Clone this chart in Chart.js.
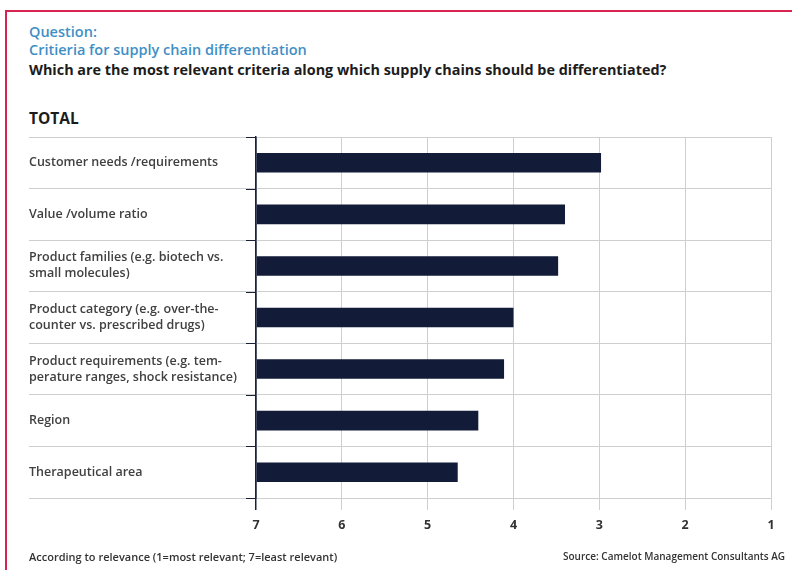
<!DOCTYPE html>
<html>
<head>
<meta charset="utf-8">
<script src="https://cdn.jsdelivr.net/npm/chart.js@4/dist/chart.umd.min.js"></script>
<style>
  body { margin: 0; background: #fff; }
  #wrap { position: relative; width: 792px; height: 570px; overflow: hidden; font-family: "Open Sans", sans-serif; }
  #frame { position: absolute; left: 5px; top: 10px; width: 820px; height: 620px;
           border-left: 2px solid #d8224f; border-top: 2px solid #d8224f; }
  .t { position: absolute; left: 29px; white-space: nowrap; line-height: 16px; }
  .blue { color: #3f8fc6; font-size: 14.5px; font-weight: 600; }
  .bold { color: #1c1c1c; font-size: 14.4px; font-weight: 700; }
  .foot { color: #333; font-weight: 600; }
  canvas { position: absolute; left: 0; top: 0; }
</style>
</head>
<body>
<div id="wrap">
  <div id="frame"></div>
  <div class="t blue" style="top:24px">Question:</div>
  <div class="t blue" style="top:42px">Critieria for supply chain differentiation</div>
  <div class="t bold" style="top:62px">Which are the most relevant criteria along which supply chains should be differentiated?</div>
  <div class="t bold" style="top:110px;font-size:15.5px">TOTAL</div>
  <canvas id="chart" width="792" height="570"></canvas>
  <div class="t foot" style="top:549px;font-size:11px">According to relevance (1=most relevant; 7=least relevant)</div>
  <div class="t foot" style="top:548px;left:563px;font-size:10px">Source: Camelot Management Consultants AG</div>
</div>
<script>
// criteria, top to bottom
const categories = [
  "Customer needs /requirements",
  "Value /volume ratio",
  ["Product families (e.g. biotech vs.", "small molecules)"],
  ["Product category (e.g. over-the-", "counter vs. prescribed drugs)"],
  ["Product requirements (e.g. tem-", "perature ranges, shock resistance)"],
  "Region",
  "Therapeutical area"
];
// average rank (1 = most relevant, 7 = least relevant)
const relevance = [2.98, 3.40, 3.48, 4.00, 4.11, 4.41, 4.65];
const tickValues = [7, 6, 5, 4, 3, 2, 1];

const GRID = "#cfcfcf";
const AXIS = "#1b2238";

Chart.defaults.font.family = "'Open Sans', sans-serif";

// short dark ticks where the row separators meet the axis
const axisTicks = {
  id: "axisTicks",
  afterDraw(chart) {
    const y = chart.scales.y;
    const { ctx, chartArea } = chart;
    const n = categories.length;
    const band = (y.bottom - y.top) / n;
    ctx.save();
    ctx.strokeStyle = AXIS;
    ctx.lineWidth = 1;
    for (let i = 0; i <= n; i++) {
      const py = Math.round(y.top + i * band) + 0.5;
      ctx.beginPath();
      ctx.moveTo(chartArea.left - 10, py);
      ctx.lineTo(chartArea.left, py);
      ctx.stroke();
    }
    ctx.restore();
  }
};

new Chart(document.getElementById("chart"), {
  type: "bar",
  data: {
    labels: categories,
    datasets: [{
      data: relevance,
      base: 7,
      backgroundColor: "#121b38",
      borderWidth: 0,
      barPercentage: 0.38,
      categoryPercentage: 1
    }]
  },
  options: {
    indexAxis: "y",
    responsive: false,
    animation: false,
    layout: { padding: { left: 29, top: 137, right: 21, bottom: 32 } },
    plugins: { legend: { display: false }, tooltip: { enabled: false } },
    scales: {
      x: {
        min: 1,
        max: 7,
        reverse: true,
        afterBuildTicks(s) { s.ticks = tickValues.map(v => ({ value: v })); },
        afterFit(s) { s.height = 40; },
        ticks: { color: "#333", padding: 8, font: { size: 12.5, weight: "bold" } },
        grid: {
          color: c => (c.tick && c.tick.value === 7 ? AXIS : GRID),
          lineWidth: c => (c.tick && c.tick.value === 7 ? 1.5 : 1),
          tickLength: 12
        },
        border: { display: false }
      },
      y: {
        afterFit(s) { s.width = 227; },
        ticks: { crossAlign: "far", color: "#404040", padding: 0, font: { size: 12.5, weight: 600, lineHeight: 1.28 } },
        grid: { color: GRID, tickLength: 227, offset: true },
        border: { color: AXIS, width: 1.5 }
      }
    }
  },
  plugins: [axisTicks]
});
</script>
</body>
</html>
